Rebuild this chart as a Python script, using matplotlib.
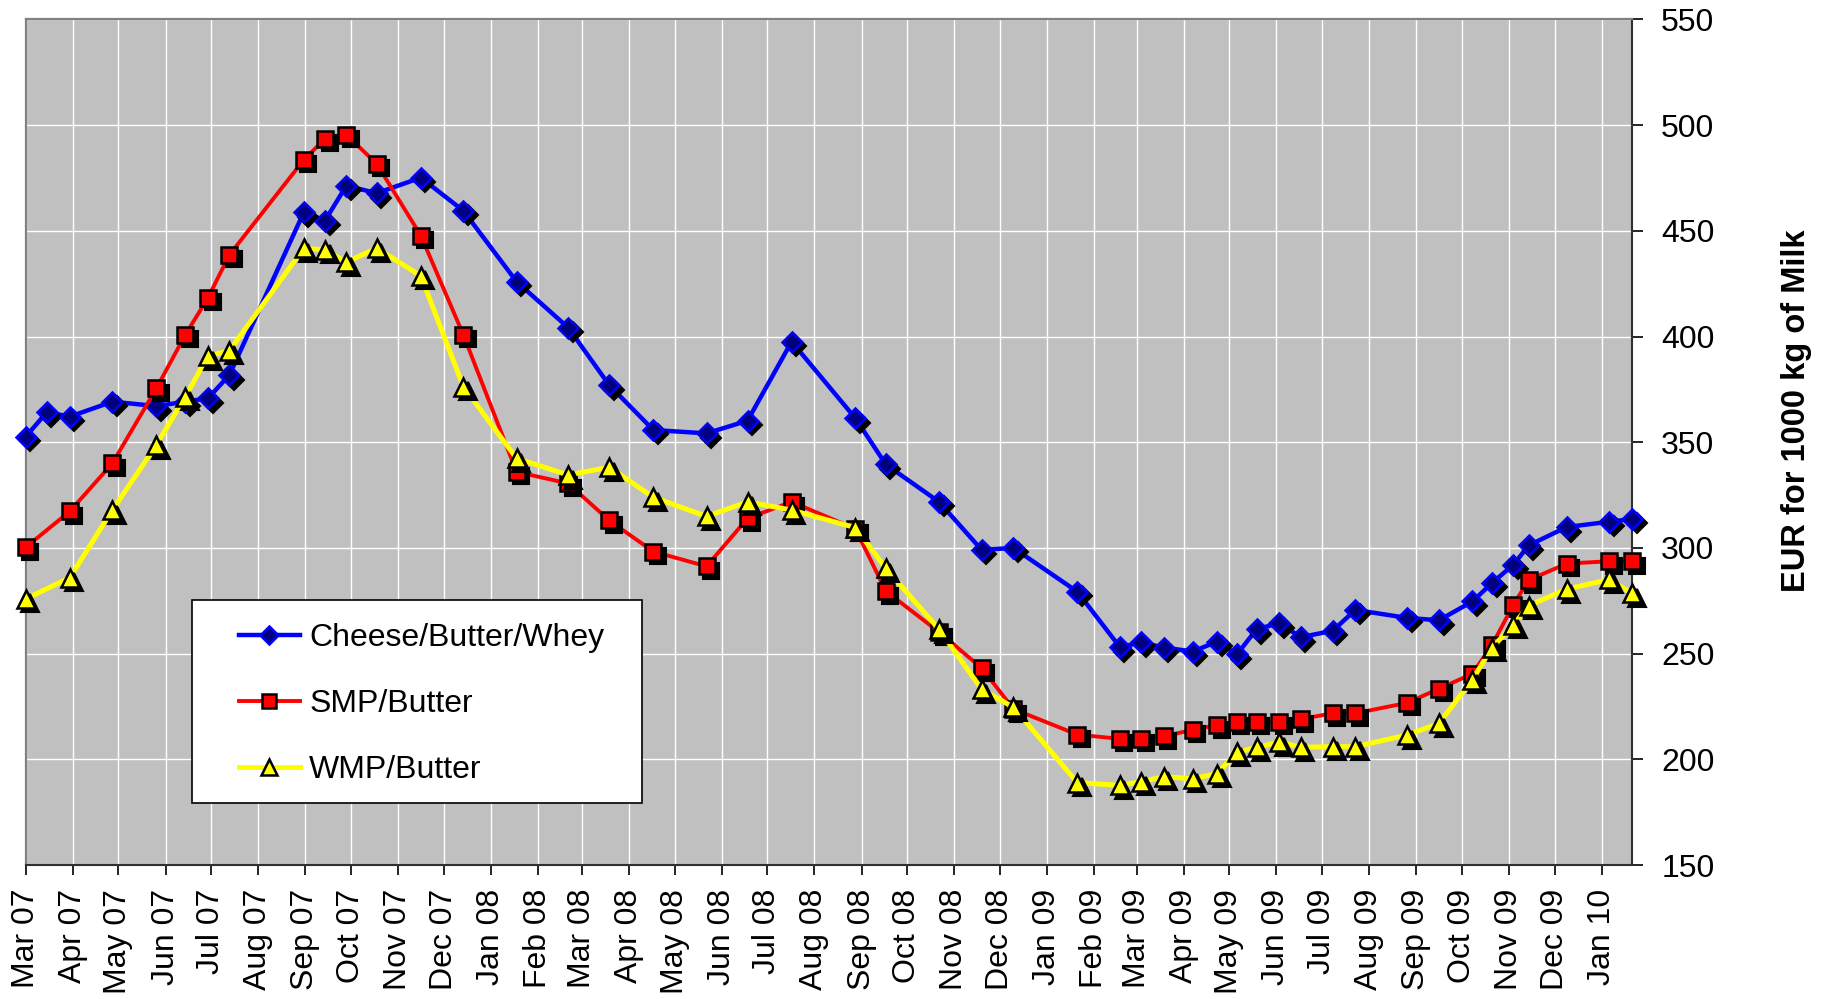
import matplotlib
matplotlib.use("Agg")
import matplotlib.pyplot as plt
import matplotlib.dates as mdates
import matplotlib.transforms as mtransforms
from matplotlib.lines import Line2D
from matplotlib.patches import Rectangle
import pandas as pd

plt.rcParams["font.family"] = ["Liberation Sans", "DejaVu Sans"]

# observation dates shared by SMP/Butter and WMP/Butter
dates = ["2007-03-01", "2007-03-30", "2007-04-27", "2007-05-26", "2007-06-14", "2007-06-29",
         "2007-07-13", "2007-08-31", "2007-09-14", "2007-09-28", "2007-10-18", "2007-11-16",
         "2007-12-14", "2008-01-18", "2008-02-21", "2008-03-19", "2008-04-17", "2008-05-22",
         "2008-06-18", "2008-07-17", "2008-08-28", "2008-09-17", "2008-10-22", "2008-11-19",
         "2008-12-10", "2009-01-21", "2009-02-18", "2009-03-04", "2009-03-19", "2009-04-07",
         "2009-04-23", "2009-05-06", "2009-05-19", "2009-06-03", "2009-06-17", "2009-07-08",
         "2009-07-23", "2009-08-26", "2009-09-16", "2009-10-08", "2009-10-21", "2009-11-04",
         "2009-11-14", "2009-12-09", "2010-01-06", "2010-01-21"]
# cheese series has one extra early observation
cheese_dates = dates[:1] + ["2007-03-15"] + dates[1:]

cheese = [352.6, 364.3, 362.1, 369.2, 367.1, 369.2, 370.8, 381.8, 458.8, 454.9, 471.4, 467.8,
          475.2, 459.5, 426.0, 404.2, 377.0, 355.8, 354.2, 360.2, 397.6, 361.3, 339.5, 321.8,
          299.1, 300.0, 279.3, 253.1, 255.3, 252.9, 251.0, 255.7, 249.6, 261.6, 264.4, 257.8,
          260.8, 270.7, 266.9, 265.8, 274.7, 283.5, 292.1, 301.2, 309.9, 312.4, 313.7]
smp = [300.3, 317.3, 340.0, 375.5, 400.8, 418.4, 438.6, 483.6, 493.6, 495.5, 481.7, 447.8,
       400.8, 336.0, 330.5, 313.0, 298.3, 291.3, 314.0, 321.8, 309.0, 279.6, 260.2, 243.2,
       223.8, 211.7, 209.7, 209.7, 210.9, 214.0, 216.2, 217.8, 217.8, 217.8, 219.0, 221.8,
       221.8, 226.7, 233.4, 240.5, 254.2, 273.2, 284.8, 292.6, 293.7, 293.7]
wmp = [275.9, 285.9, 317.9, 348.7, 371.5, 390.8, 393.3, 441.8, 441.0, 435.2, 441.8, 428.7,
       376.3, 342.4, 334.5, 338.2, 324.0, 314.9, 321.8, 317.9, 309.6, 290.3, 261.5, 233.2,
       224.6, 189.0, 187.7, 189.4, 191.8, 190.8, 193.3, 203.3, 205.7, 208.2, 205.7, 206.0,
       206.0, 211.5, 217.0, 237.7, 252.9, 263.6, 272.7, 280.5, 285.1, 278.5]

labels = ["Cheese/Butter/Whey", "SMP/Butter", "WMP/Butter"]
yticks = [150, 200, 250, 300, 350, 400, 450, 500, 550]

fig = plt.figure(figsize=(18.27, 9.99), dpi=100)
ax = fig.add_axes([0.01407, 0.1341, 0.8792, 0.8464])
ax.set_facecolor("#C0C0C0")

shadow = mtransforms.offset_copy(ax.transData, fig=fig, x=4.5, y=-4.5, units="dots")

series = [
    (pd.to_datetime(cheese_dates), cheese, "#0000FF", 3.2, "D", 10.5, "#000080", "#0000FF"),
    (pd.to_datetime(dates), smp, "#FF0000", 2.8, "s", 11.5, "#FF0000", "black"),
    (pd.to_datetime(dates), wmp, "#FFFF00", 3.6, "^", 13.5, "#FFFF00", "black"),
]

handles = []
for i, (x, y, col, lw, mk, ms, mfc, mec) in enumerate(series):
    z = 3 + i
    ax.plot(x, y, color=col, lw=lw, zorder=z, solid_joinstyle="round")
    ax.plot(x, y, ls="none", marker=mk, ms=ms, mfc="black", mec="black", mew=1.5,
            transform=shadow, zorder=z + 0.1, clip_on=False)
    ax.plot(x, y, ls="none", marker=mk, ms=ms, mfc=mfc, mec=mec, mew=1.8,
            zorder=z + 0.2, clip_on=False)
    handles.append(Line2D([], [], color=col, lw=lw, marker=mk, ms=ms * 0.85,
                          mfc=mfc, mec=mec, mew=1.8))

d = pd.to_datetime(dates)
ax.set_xlim(d[0], d[-1])
ax.set_ylim(150, 550)
ax.set_yticks(yticks)

ax.xaxis.set_major_locator(mdates.MonthLocator())
ax.xaxis.set_major_formatter(mdates.DateFormatter("%b %y"))
ax.yaxis.tick_right()

ax.tick_params(axis="x", direction="out", length=7, width=1.2, pad=10,
               labelsize=23, labelrotation=90)
ax.tick_params(axis="y", direction="out", length=8, width=1.2, pad=13, labelsize=23)

ax.grid(True, color="white", lw=1.0)
ax.set_axisbelow(True)

for s in ["top", "left"]:
    ax.spines[s].set_color("#808080")
    ax.spines[s].set_linewidth(1.6)
for s in ["right", "bottom"]:
    ax.spines[s].set_color("#303030")
    ax.spines[s].set_linewidth(1.5)

# legend frame drawn separately so the entries can sit indented inside it
ax.add_patch(Rectangle((0.1033, 0.0733), 0.2804, 0.2401, transform=ax.transAxes,
                       facecolor="white", edgecolor="black", lw=1.2, zorder=9))
ax.legend(handles, labels, loc="upper left", bbox_to_anchor=(0.1328, 0.2860),
          frameon=False, borderpad=0, borderaxespad=0, fontsize=23,
          handlelength=1.9, handletextpad=0.3, labelspacing=1.12).set_zorder(10)

fig.text(1797 / 1827, 1 - 411 / 999, "EUR for 1000 kg of Milk", rotation=90,
         fontsize=23.5, fontweight="bold", ha="center", va="center")

fig.savefig("out.png", dpi=100)
